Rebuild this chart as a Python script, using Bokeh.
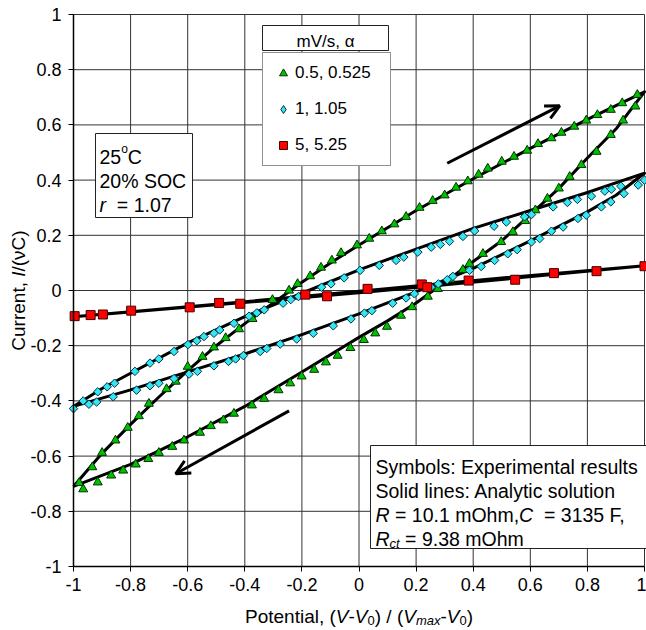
import math
from bokeh.plotting import figure
from bokeh.models import (FixedTicker, CustomJSTickFormatter, Label, BoxAnnotation,
                          Arrow, OpenHead, Legend, LegendItem, Range1d)
from bokeh.embed import file_html
from bokeh.resources import INLINE

# ---------------- data ----------------
XTICKS = [-1, -0.8, -0.6, -0.4, -0.2, 0, 0.2, 0.4, 0.6, 0.8, 1]
XTICK_LABELS = ["-1", "-0.8", "-0.6", "-0.4", "-0.2", "0", "0.2", "0.4", "0.6", "0.8", "1"]
YTICKS = [-1, -0.8, -0.6, -0.4, -0.2, 0, 0.2, 0.4, 0.6, 0.8, 1]
YTICK_LABELS = ["-1", "-0.8", "-0.6", "-0.4", "-0.2", "0", "0.2", "0.4", "0.6", "0.8", "1"]

SERIES_LABELS = ["0.5, 0.525", "1, 1.05", "5, 5.25"]

# 0.5 mV/s experimental (triangles)
green_fwd_x = [-0.98, -0.934, -0.90, -0.853, -0.81, -0.771, -0.736, -0.674, -0.642, -0.60,
               -0.548, -0.508, -0.467, -0.42, -0.373, -0.303, -0.245, -0.215, -0.171, -0.133,
               -0.095, -0.063, -0.007, 0.036, 0.08, 0.124, 0.165, 0.212, 0.258, 0.30,
               0.34, 0.381, 0.419, 0.451, 0.50, 0.543, 0.589, 0.627, 0.674, 0.709,
               0.754, 0.796, 0.835, 0.882, 0.922, 0.975]
green_fwd_y = [-0.697, -0.64, -0.588, -0.543, -0.497, -0.455, -0.41, -0.357, -0.33, -0.276,
               -0.24, -0.206, -0.172, -0.14, -0.103, -0.034, 0.0, 0.024, 0.052, 0.083,
               0.109, 0.136, 0.164, 0.188, 0.215, 0.24, 0.267, 0.30, 0.325, 0.345,
               0.373, 0.396, 0.42, 0.442, 0.467, 0.485, 0.507, 0.531, 0.552, 0.572,
               0.594, 0.616, 0.636, 0.655, 0.679, 0.709]
green_rev_x = [0.968, 0.925, 0.882, 0.832, 0.779, 0.738, 0.70, 0.66, 0.618, 0.582,
               0.539, 0.498, 0.434, 0.387, 0.364, 0.32, 0.276, 0.241, 0.186, 0.147,
               0.098, 0.057, 0.017, -0.03, -0.075, -0.116, -0.157, -0.201, -0.241, -0.282,
               -0.332, -0.375, -0.438, -0.475, -0.519, -0.557, -0.613, -0.654, -0.701, -0.738,
               -0.782, -0.826, -0.868, -0.915, -0.966]
green_rev_y = [0.667, 0.616, 0.564, 0.503, 0.455, 0.412, 0.37, 0.333, 0.291, 0.252,
               0.212, 0.176, 0.133, 0.097, 0.075, 0.04, 0.006, -0.022, -0.06, -0.091,
               -0.131, -0.155, -0.179, -0.208, -0.236, -0.26, -0.287, -0.311, -0.336, -0.361,
               -0.392, -0.416, -0.446, -0.47, -0.491, -0.515, -0.543, -0.566, -0.588, -0.61,
               -0.63, -0.652, -0.67, -0.695, -0.72]

# 1 mV/s experimental (diamonds)
cyan_fwd_x = [-1.0, -0.966, -0.915, -0.882, -0.856, -0.785, -0.732, -0.701, -0.648, -0.599,
              -0.568, -0.543, -0.508, -0.488, -0.438, -0.385, -0.358, -0.332, -0.266, -0.239,
              -0.212, -0.131, -0.098, -0.052, 0.004, 0.071, 0.13, 0.157, 0.206, 0.253,
              0.285, 0.317, 0.364, 0.405, 0.473, 0.516, 0.58, 0.604, 0.68, 0.73,
              0.765, 0.814, 0.861, 0.884, 0.917, 0.978, 1.0]
cyan_fwd_y = [-0.428, -0.40, -0.367, -0.349, -0.336, -0.293, -0.263, -0.248, -0.221, -0.196,
              -0.182, -0.167, -0.155, -0.143, -0.119, -0.093, -0.081, -0.07, -0.046, -0.033,
              -0.022, 0.012, 0.024, 0.046, 0.073, 0.091, 0.109, 0.121, 0.139, 0.157,
              0.167, 0.178, 0.196, 0.216, 0.233, 0.248, 0.267, 0.275, 0.303, 0.319,
              0.33, 0.342, 0.36, 0.367, 0.378, 0.382, 0.40]
cyan_rev_x = [0.928, 0.882, 0.849, 0.796, 0.767, 0.715, 0.674, 0.633, 0.604, 0.554,
              0.521, 0.475, 0.428, 0.387, 0.329, 0.309, 0.278, 0.253, 0.194, 0.165,
              0.118, 0.045, 0.019, -0.028, -0.09, -0.16, -0.218, -0.276, -0.323, -0.346,
              -0.405, -0.432, -0.457, -0.508, -0.566, -0.595, -0.648, -0.701, -0.732, -0.779,
              -0.861, -0.919, -0.946]
cyan_rev_y = [0.351, 0.321, 0.303, 0.273, 0.261, 0.23, 0.215, 0.188, 0.176, 0.148,
              0.133, 0.109, 0.087, 0.073, 0.051, 0.039, 0.024, 0.012, -0.012, -0.027,
              -0.046, -0.073, -0.082, -0.103, -0.128, -0.155, -0.176, -0.194, -0.21, -0.221,
              -0.236, -0.248, -0.257, -0.273, -0.293, -0.303, -0.319, -0.336, -0.345, -0.361,
              -0.385, -0.404, -0.412]

# 5 mV/s experimental (squares)
red_x = [-0.996, -0.94, -0.897, -0.798, -0.593, -0.49, -0.416, -0.188, -0.112, 0.03,
         0.22, 0.239, 0.384, 0.547, 0.683, 0.832, 1.0]
red_y = [-0.093, -0.089, -0.087, -0.073, -0.061, -0.045, -0.048, -0.015, -0.021, 0.006,
         0.022, 0.012, 0.036, 0.039, 0.063, 0.07, 0.088]

# analytic solution (solid lines)
green_fit_x = [-1, -0.9, -0.8, -0.7, -0.6, -0.5, -0.4, -0.3, -0.2, -0.1, 0, 0.2, 0.4, 0.6, 0.8, 1,
               0.9, 0.8, 0.7, 0.6, 0.5, 0.4, 0.3, 0.2, 0.1, 0, -0.2, -0.4, -0.6, -0.8, -1]
green_fit_y = [-0.71, -0.59, -0.485, -0.385, -0.29, -0.2, -0.12, -0.045, 0.03, 0.1, 0.165, 0.29,
               0.405, 0.515, 0.62, 0.72,
               0.585, 0.48, 0.37, 0.275, 0.18, 0.105, 0.03, -0.045, -0.11, -0.17, -0.295,
               -0.42, -0.53, -0.63, -0.71]
cyan_fit_x = [-1, -0.9, -0.8, -0.6, -0.4, -0.2, 0, 0.2, 0.4, 0.6, 0.8, 1,
              0.9, 0.8, 0.6, 0.4, 0.2, 0, -0.2, -0.4, -0.6, -0.8, -1]
cyan_fit_y = [-0.42, -0.355, -0.30, -0.19, -0.095, -0.01, 0.075, 0.15, 0.225, 0.29, 0.355, 0.425,
              0.345, 0.285, 0.18, 0.08, -0.005, -0.085, -0.16, -0.23, -0.295, -0.36, -0.42]
red_fit_x = [-1, -0.5, 0, 0.5, 1, 0.5, 0, -0.5, -1]
red_fit_y = [-0.095, -0.05, -0.003, 0.045, 0.09, 0.04, -0.008, -0.052, -0.095]

# direction arrows (data coordinates: start x, start y, end x, end y)
arrow_up = [0.309, 0.461, 0.703, 0.669]
arrow_down = [-0.245, -0.436, -0.642, -0.664]

# ---------------- layout constants (page pixels) ----------------
FONT = "Liberation Sans"
W, H = 646, 630
FL, FT, FR, FB = 73, 14, 644, 566
XS = (FR - FL) / 2.0
YS = (FB - FT) / 2.0


def px2x(px):
    return -1 + (px - FL) / XS


def py2y(py):
    return 1 - (py - FT) / YS


ARIAL = {' ': 278, '!': 278, '%': 889, '(': 333, ')': 333, ',': 278, '-': 333, '.': 278,
         '/': 278, ':': 278, '=': 584, '°': 400, 'α': 578, 'ν': 500,
         'A': 667, 'B': 667, 'C': 722, 'D': 722, 'E': 667, 'F': 611, 'G': 778, 'H': 722,
         'I': 278, 'J': 500, 'K': 667, 'L': 556, 'M': 833, 'N': 722, 'O': 778, 'P': 667,
         'Q': 778, 'R': 722, 'S': 667, 'T': 611, 'U': 722, 'V': 667, 'W': 944, 'X': 667,
         'Y': 667, 'Z': 611, 'a': 556, 'b': 556, 'c': 500, 'd': 556, 'e': 556, 'f': 278,
         'g': 556, 'h': 556, 'i': 222, 'j': 222, 'k': 500, 'l': 222, 'm': 833, 'n': 556,
         'o': 556, 'p': 556, 'q': 556, 'r': 333, 's': 500, 't': 278, 'u': 556, 'v': 500,
         'w': 722, 'x': 500, 'y': 500, 'z': 500}


def tw(s, size):
    return sum(ARIAL.get(c, 556) for c in s) * size / 1000.0


# the frame covers the whole canvas; the axes are pinned at x=-1 / y=-1
p = figure(width=W, height=H,
           x_range=Range1d(px2x(0), px2x(W)), y_range=Range1d(py2y(H), py2y(0)),
           output_backend="svg", toolbar_location=None,
           min_border=0, min_border_left=0, min_border_right=0,
           min_border_top=0, min_border_bottom=0)
p.background_fill_color = "white"
p.border_fill_color = "white"
p.outline_line_color = None
p.xgrid.visible = False
p.ygrid.visible = False

fmt = CustomJSTickFormatter(code="return tick.toString();")
for ax, ticks, labs, standoff in ((p.xaxis, XTICKS, XTICK_LABELS, 6),
                                  (p.yaxis, YTICKS, YTICK_LABELS, 7)):
    ax.fixed_location = -1
    ax.bounds = (-1, 1)
    ax.ticker = FixedTicker(ticks=ticks)
    ax.formatter = fmt
    ax.major_label_overrides = {t: l for t, l in zip(ticks, labs)}
    ax.major_label_text_font = FONT
    ax.major_label_text_font_size = "18px"
    ax.major_label_text_color = "black"
    ax.major_label_standoff = standoff
    ax.axis_line_color = "black"
    ax.axis_line_width = 1.5
    ax.major_tick_in = 0
    ax.major_tick_out = 5
    ax.major_tick_line_color = "black"
    ax.minor_tick_line_color = None

# grid lines of the plot area, at the tick positions
p.segment(x0=XTICKS, y0=[-1] * len(XTICKS), x1=XTICKS, y1=[1] * len(XTICKS),
          line_color="#333333", line_width=1)
p.segment(x0=[-1] * len(YTICKS), y0=YTICKS, x1=[1] * len(YTICKS), y1=YTICKS,
          line_color="#333333", line_width=1)

# analytic lines
for fx, fy in ((red_fit_x, red_fit_y), (cyan_fit_x, cyan_fit_y), (green_fit_x, green_fit_y)):
    p.line(fx, fy, line_color="black", line_width=3, line_join="round")

# experimental symbols
G_STYLE = dict(marker="triangle", size=9, fill_color="#00c000", line_color="#003300", line_width=1)
C_STYLE = dict(fill_color="#33e6f2", line_color="#003344", line_width=1)
R_STYLE = dict(marker="square", size=9, fill_color="#ff0000", line_color="#400000", line_width=1)

g1 = p.scatter(green_fwd_x, green_fwd_y, **G_STYLE)
p.scatter(green_rev_x, green_rev_y, **G_STYLE)
# diamond glyph used by the legend (sits under the first diamond of the series)
c_leg = p.scatter(cyan_fwd_x[:1], cyan_fwd_y[:1], marker="diamond", size=7, **C_STYLE)
p.scatter(cyan_fwd_x, cyan_fwd_y, marker="square", angle=math.pi / 4, size=6, **C_STYLE)
p.scatter(cyan_rev_x, cyan_rev_y, marker="square", angle=math.pi / 4, size=6, **C_STYLE)
r1 = p.scatter(red_x, red_y, **R_STYLE)

# arrows
for a in (arrow_up, arrow_down):
    p.add_layout(Arrow(end=OpenHead(size=14, line_width=3, line_color="black"),
                       x_start=a[0], y_start=a[1], x_end=a[2], y_end=a[3],
                       line_width=3, line_color="black"))


def box(l, t, r, b):
    p.add_layout(BoxAnnotation(left=px2x(l), right=px2x(r), top=py2y(t), bottom=py2y(b),
                               fill_color="white", fill_alpha=1, line_color="#222222",
                               line_width=1, line_alpha=1))


def label(text, x_px, base_px, size, italic=False, align="left"):
    p.add_layout(Label(x=-1, y=-1, x_offset=x_px - FL, y_offset=FB - base_px, text=text,
                       text_font=FONT, text_font_size=f"{size}px",
                       text_font_style="italic" if italic else "normal",
                       text_color="black", text_baseline="alphabetic", text_align=align))


def pieces(items, x_px, base_px):
    x = x_px
    for text, size, italic, dy in items:
        lead = len(text) - len(text.lstrip(" "))
        x += tw(" " * lead, size)
        body = text.lstrip(" ")
        label(body, x, base_px - dy, size, italic)
        x += tw(body, size)


# boxes
box(95, 133, 192, 217)
box(262, 25, 388, 50)
box(370, 445, 660, 548)

# top-left box text
TS = 19.5
pieces([("25", TS, False, 0), ("o", 12, False, 8), ("C", TS, False, 0)], 99, 156)
pieces([("20% SOC", TS, False, 0)], 99, 180)
pieces([("r", TS, True, 0), ("  = 1.07", TS, False, 0)], 99, 204)

# bottom-right box text
pieces([("Symbols: Experimental results", TS, False, 0)], 375, 466)
pieces([("Solid lines: Analytic solution", TS, False, 0)], 375, 490)
pieces([("R", TS, True, 0), (" = 10.1 mOhm,", TS, False, 0), ("C", TS, True, 0),
        ("  = 3135 F,", TS, False, 0)], 375, 514)
pieces([("R", TS, True, 0), ("ct", 13, True, -5), (" = 9.38 mOhm", TS, False, 0)], 375, 538)

# legend header
label("mV/s, α", 325, 41, 17, align="center")

# x axis title
XT = [("Potential, (", 19, False, 0), ("V", 19, True, 0), ("-", 19, False, 0),
      ("V", 19, True, 0), ("0", 13, False, -3.5), (") / (", 19, False, 0),
      ("V", 19, True, 0), ("max", 13, True, -3.5), ("-", 19, False, 0),
      ("V", 19, True, 0), ("0", 13, False, -3.5), (")", 19, False, 0)]
xt_w = sum(tw(t, s) for t, s, _, _ in XT)
pieces(XT, (FL + FR) / 2.0 - xt_w / 2.0, 616)

# y axis title (rotated)
YT = [("Current, ", 19, False), ("I", 19, True), ("/(νC)", 19, False)]
yt_w = sum(tw(t, s) for t, s, _ in YT)
off = -yt_w / 2.0
for t, s, it in YT:
    p.add_layout(Label(x=-1, y=0, x_offset=18 - FL, y_offset=off, text=t, angle=math.pi / 2,
                       text_font=FONT, text_font_size=f"{s}px",
                       text_font_style="italic" if it else "normal", text_color="black",
                       text_baseline="alphabetic", text_align="left"))
    off += tw(t, s)

# legend
legend = Legend(items=[LegendItem(label=SERIES_LABELS[0], renderers=[g1]),
                       LegendItem(label=SERIES_LABELS[1], renderers=[c_leg]),
                       LegendItem(label=SERIES_LABELS[2], renderers=[r1])],
                location=(262, H - 166), orientation="vertical",
                label_text_font=FONT, label_text_font_size="17px", label_text_color="black",
                label_height=20, glyph_height=20, glyph_width=20, label_width=85,
                label_standoff=2, spacing=16, padding=10, margin=0,
                border_line_color="#222222", border_line_width=1,
                background_fill_color="white", background_fill_alpha=1)
p.add_layout(legend)

open("out.html", "w").write(file_html(p, INLINE))
